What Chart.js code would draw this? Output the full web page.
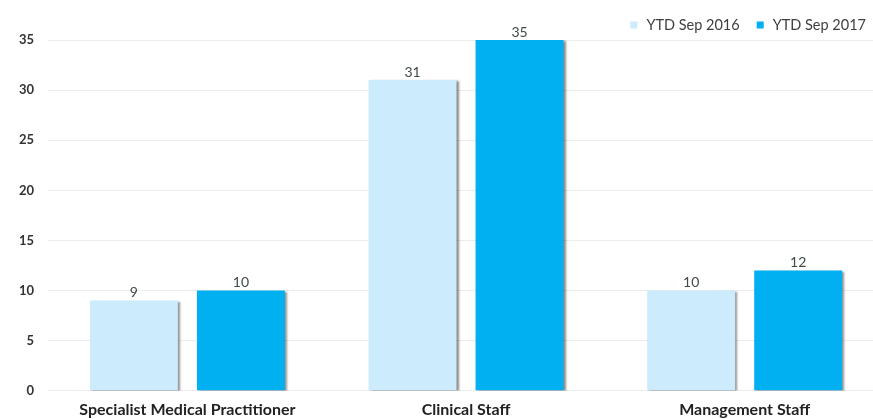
<!DOCTYPE html>
<html>
<head>
<meta charset="utf-8">
<script src="https://cdn.jsdelivr.net/npm/chart.js@4"></script>
<style>
html,body{margin:0;padding:0;background:#fff;overflow:hidden;}
#wrap{width:884px;height:419px;position:relative;}
</style>
</head>
<body>
<div id="wrap"><canvas id="c"></canvas></div>
<script>
const categories = ["Specialist Medical Practitioner", "Clinical Staff", "Management Staff"];
const seriesNames = ["YTD Sep 2016", "YTD Sep 2017"];
const values2016 = [9, 31, 10];
const values2017 = [10, 35, 12];
const yTicks = [0, 5, 10, 15, 20, 25, 30, 35];
const seriesColors = ['#CCEBFC', '#00B0F0'];

const FONT = 'Lato, "Open Sans", sans-serif';

const shadowPlugin = {
  id: 'barShadow',
  beforeDatasetsDraw(chart) {
    const ctx = chart.ctx;
    ctx.save();
    ctx.shadowColor = 'rgba(0,0,0,0.45)';
    ctx.shadowOffsetX = 2;
    ctx.shadowOffsetY = 1;
    ctx.shadowBlur = 2;
  },
  afterDatasetsDraw(chart) {
    chart.ctx.restore();
  }
};

const labelPlugin = {
  id: 'valueLabels',
  afterDatasetsDraw(chart) {
    const ctx = chart.ctx;
    ctx.save();
    ctx.font = '14px ' + FONT;
    ctx.fillStyle = '#3f4a4a';
    ctx.textAlign = 'center';
    ctx.textBaseline = 'bottom';
    chart.data.datasets.forEach((ds, i) => {
      const meta = chart.getDatasetMeta(i);
      meta.data.forEach((bar, j) => {
        ctx.fillText(String(ds.data[j]), bar.x, bar.y - 1);
      });
    });
    ctx.restore();
  }
};

const legendPlugin = {
  id: 'customLegend',
  afterDraw(chart) {
    const ctx = chart.ctx;
    ctx.save();
    ctx.font = '14.5px ' + FONT;
    ctx.textBaseline = 'middle';
    ctx.textAlign = 'left';
    const y = 25;
    const box = 7, gapBoxText = 9, gapItems = 17;
    let x = 866;
    const items = chart.data.datasets.map((ds) => ({ label: ds.label, color: ds.backgroundColor }));
    for (let i = items.length - 1; i >= 0; i--) {
      const w = ctx.measureText(items[i].label).width;
      x -= w;
      ctx.fillStyle = '#404040';
      ctx.fillText(items[i].label, x, y);
      x -= gapBoxText;
      ctx.fillStyle = items[i].color;
      ctx.fillRect(x - box, y - box / 2, box, box);
      x -= box + gapItems;
    }
    ctx.restore();
  }
};

new Chart(document.getElementById('c'), {
  type: 'bar',
  data: {
    labels: categories,
    datasets: [
      { label: seriesNames[0], data: values2016, backgroundColor: seriesColors[0], borderWidth: 0 },
      { label: seriesNames[1], data: values2017, backgroundColor: seriesColors[1], borderWidth: 0 }
    ]
  },
  options: {
    responsive: true,
    maintainAspectRatio: false,
    animation: false,
    layout: { padding: { top: 40, right: 0, left: 5, bottom: -9 } },
    datasets: { bar: { categoryPercentage: 0.768, barPercentage: 0.822 } },
    plugins: {
      legend: { display: false },
      tooltip: { enabled: false },
      title: { display: false }
    },
    scales: {
      x: {
        grid: { display: false, drawTicks: false },
        border: { display: false },
        ticks: {
          color: '#222',
          padding: 9,
          font: { family: FONT, size: 16, weight: 'bold' }
        }
      },
      y: {
        min: 0,
        max: 35,
        afterBuildTicks(axis) { axis.ticks = yTicks.map(v => ({ value: v })); },
        grid: { color: '#ececec', drawTicks: false },
        border: { display: false },
        ticks: {
          color: '#333',
          padding: 14,
          font: { family: FONT, size: 13, weight: 'bold' }
        }
      }
    }
  },
  plugins: [shadowPlugin, labelPlugin, legendPlugin]
});
</script>
</body>
</html>
